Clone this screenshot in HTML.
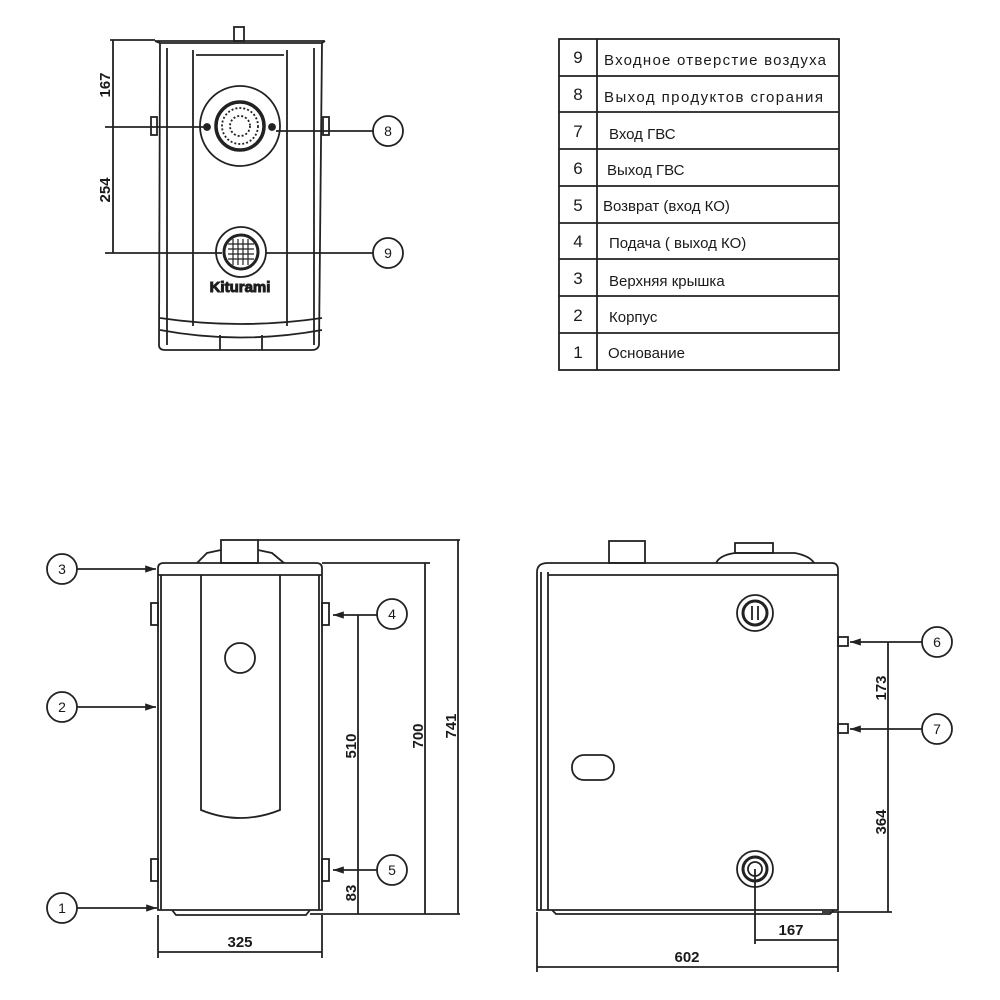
<!DOCTYPE html>
<html><head><meta charset="utf-8"><style>
html,body{margin:0;padding:0;background:#fff;}
svg{display:block}
text{font-family:"Liberation Sans","DejaVu Sans",sans-serif;fill:#1a1a1a}
</style></head><body>
<svg width="1000" height="1000" viewBox="0 0 1000 1000" xmlns="http://www.w3.org/2000/svg">
<defs><marker id="a" markerWidth="6" markerHeight="6" refX="6" refY="3" orient="auto"><path d="M0,1 L6,3 L0,5z" fill="#222"/></marker></defs>
<g stroke="#222" fill="none" stroke-width="1.8">
<!-- TOP VIEW -->
<rect x="234" y="27" width="10" height="14"/>
<path d="M160,43 L322,43 L319,345 Q318,350 312,350 L165,350 Q159,350 159,345 Z" fill="#fff"/>
<path d="M155,41 L325,41 M160,43 L155,41 M322,43 L325,41"/>
<line x1="167" y1="48" x2="167" y2="345"/><line x1="314" y1="48" x2="314" y2="345"/>
<line x1="193" y1="50" x2="193" y2="326"/><line x1="287" y1="50" x2="287" y2="326"/>
<line x1="196" y1="55" x2="284" y2="55"/>
<path d="M160,318 Q240,330 322,318"/><path d="M160,330 Q240,345 322,330"/>
<line x1="220" y1="335" x2="220" y2="350"/><line x1="262" y1="335" x2="262" y2="350"/>
<rect x="151" y="117" width="6" height="18"/><rect x="323" y="117" width="6" height="18"/>
<circle cx="240" cy="126" r="40"/>
<circle cx="240" cy="126" r="24" stroke-width="3.5"/>
<circle cx="240" cy="126" r="18" stroke-dasharray="2 2"/>
<circle cx="240" cy="126" r="10" stroke-dasharray="2 2"/>
<circle cx="207" cy="127" r="3" fill="#222"/><circle cx="272" cy="127" r="3" fill="#222"/>
<circle cx="241" cy="252" r="25"/>
<circle cx="241" cy="252" r="17" stroke-width="3"/>
<path d="M228,244h26M228,249h26M228,254h26M228,259h26M233,239v26M238,239v26M243,239v26M248,239v26" stroke-width="1.2"/>
<line x1="113" y1="40" x2="113" y2="253"/>
<line x1="110" y1="40" x2="155" y2="40"/>
<line x1="105" y1="127" x2="205" y2="127"/>
<line x1="105" y1="253" x2="222" y2="253"/>
<line x1="276" y1="131" x2="373" y2="131"/>
<line x1="266" y1="253" x2="373" y2="253"/>
<circle cx="388" cy="131" r="15"/><circle cx="388" cy="253" r="15"/>
<!-- TABLE -->
<rect x="559" y="39" width="280" height="331"/>
<line x1="597" y1="39" x2="597" y2="370"/>
<path d="M559,76h280M559,112h280M559,149h280M559,186h280M559,223h280M559,259h280M559,296h280M559,333h280"/>
<!-- FRONT VIEW -->
<rect x="221" y="540" width="37" height="23"/>
<path d="M197,563 L207,553 L221,550 M258,550 L272,553 L284,563"/>
<path d="M158,568 Q158,563 164,563 L316,563 Q322,563 322,568 L322,910 L158,910 Z"/>
<line x1="158" y1="575" x2="322" y2="575"/>
<line x1="161" y1="575" x2="161" y2="910"/><line x1="319" y1="575" x2="319" y2="910"/>
<path d="M201,575 L201,810 Q240,826 280,810 L280,575"/>
<circle cx="240" cy="658" r="15"/>
<rect x="151" y="603" width="7" height="22"/><rect x="322" y="603" width="7" height="22"/>
<rect x="151" y="859" width="7" height="22"/><rect x="322" y="859" width="7" height="22"/>
<path d="M172,910 L176,915 L306,915 L310,910"/>
<line x1="258" y1="540" x2="460" y2="540"/>
<line x1="322" y1="563" x2="430" y2="563"/>
<line x1="310" y1="914" x2="460" y2="914"/>
<line x1="458" y1="540" x2="458" y2="914"/>
<line x1="425" y1="563" x2="425" y2="914"/>
<line x1="358" y1="615" x2="358" y2="914"/>
<line x1="158" y1="915" x2="158" y2="958"/><line x1="322" y1="915" x2="322" y2="958"/>
<line x1="158" y1="952" x2="322" y2="952"/>
<line x1="77" y1="569" x2="156" y2="569" marker-end="url(#a)"/>
<line x1="77" y1="707" x2="156" y2="707" marker-end="url(#a)"/>
<line x1="77" y1="908" x2="157" y2="908" marker-end="url(#a)"/>
<line x1="377" y1="615" x2="333" y2="615" marker-end="url(#a)"/>
<line x1="377" y1="870" x2="333" y2="870" marker-end="url(#a)"/>
<circle cx="62" cy="569" r="15"/><circle cx="62" cy="707" r="15"/><circle cx="62" cy="908" r="15"/>
<circle cx="392" cy="614" r="15"/><circle cx="392" cy="870" r="15"/>
<!-- SIDE VIEW -->
<rect x="609" y="541" width="36" height="22"/>
<path d="M716,563 Q720,555 735,553 L795,553 Q810,556 814,563"/>
<rect x="735" y="543" width="38" height="10"/>
<path d="M537,572 Q537,563 548,563 L832,563 Q838,563 838,570 L838,910 L537,910 Z"/>
<line x1="548" y1="575" x2="838" y2="575"/>
<line x1="541" y1="572" x2="541" y2="910"/><line x1="548" y1="572" x2="548" y2="910"/>
<path d="M552,910 L556,914 L830,914 L834,910"/>
<circle cx="755" cy="613" r="18"/><circle cx="755" cy="613" r="12" stroke-width="3"/>
<line x1="752" y1="606" x2="752" y2="620"/><line x1="758" y1="606" x2="758" y2="620"/>
<circle cx="755" cy="869" r="18"/><circle cx="755" cy="869" r="12" stroke-width="3"/>
<circle cx="755" cy="869" r="7"/>
<rect x="572" y="755" width="42" height="25" rx="12"/>
<rect x="838" y="637" width="10" height="9"/><rect x="838" y="724" width="10" height="9"/>
<line x1="922" y1="642" x2="850" y2="642" marker-end="url(#a)"/>
<line x1="922" y1="729" x2="850" y2="729" marker-end="url(#a)"/>
<circle cx="937" cy="642" r="15"/><circle cx="937" cy="729" r="15"/>
<line x1="888" y1="642" x2="888" y2="912"/>
<line x1="822" y1="912" x2="892" y2="912"/>
<line x1="755" y1="869" x2="755" y2="944"/>
<line x1="838" y1="912" x2="838" y2="972"/>
<line x1="537" y1="912" x2="537" y2="972"/>
<line x1="755" y1="940" x2="838" y2="940"/>
<line x1="537" y1="967" x2="838" y2="967"/>
</g>
<g font-size="14" text-anchor="middle">
<text x="388" y="136">8</text><text x="388" y="258">9</text>
<text x="62" y="574">3</text><text x="62" y="712">2</text><text x="62" y="913">1</text>
<text x="392" y="619">4</text><text x="392" y="875">5</text>
<text x="937" y="647">6</text><text x="937" y="734">7</text>
</g>
<g font-size="15" text-anchor="middle" font-weight="bold">
<text transform="translate(110,85) rotate(-90)">167</text>
<text transform="translate(110,190) rotate(-90)">254</text>
<text transform="translate(356,746) rotate(-90)">510</text>
<text transform="translate(423,736) rotate(-90)">700</text>
<text transform="translate(456,726) rotate(-90)">741</text>
<text transform="translate(356,893) rotate(-90)">83</text>
<text x="240" y="947">325</text>
<text transform="translate(886,688) rotate(-90)">173</text>
<text transform="translate(886,822) rotate(-90)">364</text>
<text x="791" y="935">167</text>
<text x="687" y="962">602</text>
</g>
<text x="240" y="292" font-size="15" font-weight="bold" text-anchor="middle" fill="#fff" stroke="#222" stroke-width="1">Kiturami</text>
<g font-size="17" text-anchor="middle">
<text x="578" y="63">9</text><text x="578" y="100">8</text><text x="578" y="137">7</text>
<text x="578" y="174">6</text><text x="578" y="211">5</text><text x="578" y="247">4</text>
<text x="578" y="284">3</text><text x="578" y="321">2</text><text x="578" y="358">1</text>
</g>
<g font-size="15">
<text x="604" y="65" textLength="222">Входное отверстие воздуха</text>
<text x="604" y="102" textLength="219">Выход продуктов сгорания</text>
<text x="609" y="139">Вход ГВС</text>
<text x="607" y="175">Выход ГВС</text>
<text x="603" y="211">Возврат  (вход КО)</text>
<text x="609" y="248">Подача ( выход КО)</text>
<text x="609" y="286">Верхняя крышка</text>
<text x="609" y="322">Корпус</text>
<text x="608" y="358">Основание</text>
</g>
</svg>
</body></html>
